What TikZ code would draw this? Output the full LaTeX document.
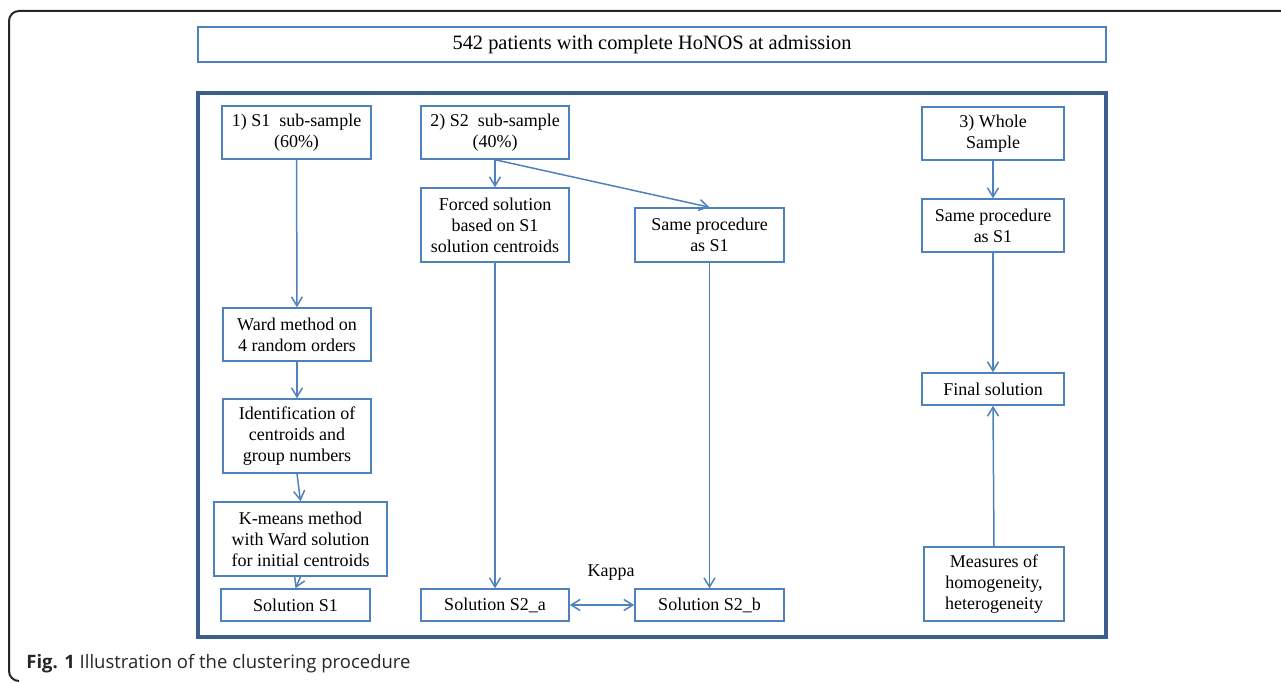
\documentclass[tikz,border=0pt]{standalone}
\usepackage{fontspec}
\setmainfont{Liberation Serif}
\newfontfamily\capfont{Open Sans}
\usetikzlibrary{arrows.meta}
\definecolor{boxblue}{HTML}{4F81BD}
\definecolor{framblue}{HTML}{3A5F8F}
\tikzset{
  box/.style={draw=boxblue, line width=0.75pt, inner sep=0pt, align=center,
    font=\fontsize{9}{10.5}\selectfont},
  conn/.style={draw=boxblue, line width=0.75pt, -{Straight Barb[length=4.5pt,width=5.5pt]}},
  conn2/.style={draw=boxblue, line width=0.75pt, {Straight Barb[length=4.5pt,width=5.5pt]}-{Straight Barb[length=4.5pt,width=5.5pt]}},
}
\begin{document}
\begin{tikzpicture}[x=0.5pt,y=-0.5pt]
\useasboundingbox (0,0) rectangle (1281,683);
% outer frame
\draw[line width=1pt, black!85] (1290,11) -- (19,11) arc[start angle=270,end angle=180,radius=10] -- (9,671) arc[start angle=180,end angle=90,radius=10];
% top box
\node[box, minimum width=454pt, minimum height=17.5pt, font=\fontsize{10.2}{12}\selectfont] (top) at (652,44.5) {542 patients with complete HoNOS at admission};
% inner frame
\draw[framblue, line width=1.75pt] (198,93) rectangle (1106,637);
% column 1
\node[box, minimum width=74.5pt, minimum height=26.5pt] (s1) at (296.5,132.5) {1) S1~ sub-sample\\(60\%)};
\node[box, minimum width=74pt, minimum height=26.5pt] (ward) at (297,334.5) {Ward method on\\4 random orders};
\node[box, minimum width=74pt, minimum height=37pt] (ident) at (297,436) {Identification of\\centroids and\\group numbers};
\node[box, minimum width=86.5pt, minimum height=37pt] (kmeans) at (300.5,539) {K-means method\\with Ward solution\\for initial centroids};
\node[box, minimum width=74.5pt, minimum height=16pt] (sols1) at (295.5,605) {Solution S1};
% column 2
\node[box, minimum width=74pt, minimum height=26.5pt] (s2) at (495,132.5) {2) S2~ sub-sample\\(40\%)};
\node[box, minimum width=74pt, minimum height=37pt] (forced) at (495,225) {Forced solution\\based on S1\\solution centroids};
\node[box, minimum width=74.5pt, minimum height=27pt] (same2) at (709.5,235) {Same procedure\\as S1};
\node[box, minimum width=74pt, minimum height=16pt] (s2a) at (495,605) {Solution S2\_a};
\node[box, minimum width=74.5pt, minimum height=16pt] (s2b) at (709.5,605) {Solution S2\_b};
\node[font=\fontsize{9}{10.5}\selectfont, inner sep=0pt] (kappa) at (611,573) {Kappa};
% column 3
\node[box, minimum width=71pt, minimum height=26.5pt] (whole) at (993,133.5) {3) Whole\\Sample};
\node[box, minimum width=71pt, minimum height=26.5pt] (same3) at (993,225.5) {Same procedure\\as S1};
\node[box, minimum width=71pt, minimum height=16pt] (final) at (993,389) {Final solution};
\node[box, minimum width=70pt, minimum height=37pt] (meas) at (994,584) {Measures of\\homogeneity,\\heterogeneity};
% connectors
\draw[conn] (s1) -- (ward);
\draw[conn] (ward) -- (ident);
\draw[conn] (ident.south) -- (kmeans.north);
\draw[conn] (kmeans.south) -- (sols1.north);
\draw[conn] (s2) -- (forced);
\draw[conn] (s2.south) -- (same2.north);
\draw[conn] (forced) -- (s2a);
\draw[conn] (same2) -- (s2b);
\draw[conn2] (s2a) -- (s2b);
\draw[conn] (whole) -- (same3);
\draw[conn] (same3) -- (final);
\draw[conn] (meas.north) -- (final.south);
% caption
\node[anchor=west, inner sep=0pt, font=\capfont\fontsize{9.25}{11}\selectfont, text=black!85] (cap) at (26,664) {\textbf{Fig. 1} Illustration of the clustering procedure};
\end{tikzpicture}
\end{document}
